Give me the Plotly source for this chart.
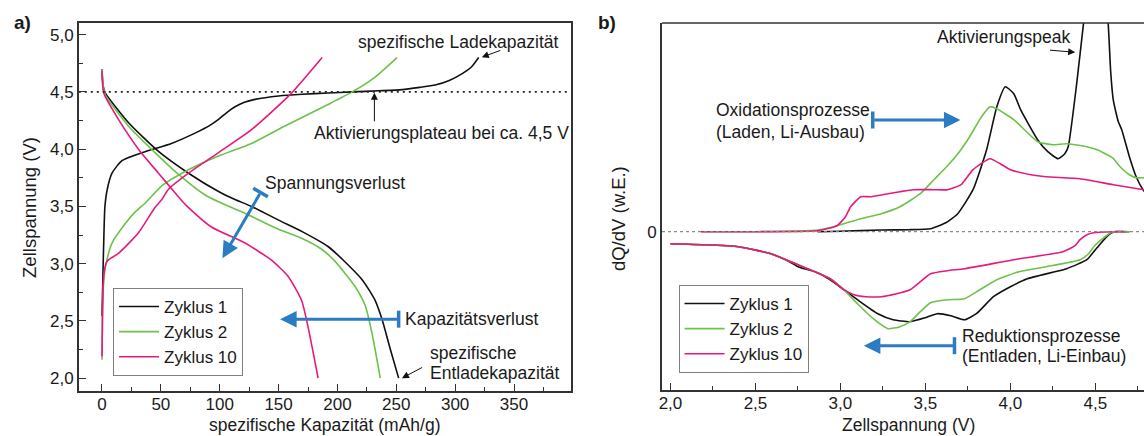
import plotly.graph_objects as go

W, H = 1144, 436
FONT = "Liberation Sans, Arial, sans-serif"
TXT = "#1a1a1a"
BLUE = "#2b7cc2"
C1, C2, C10 = "#111111", "#6cc24a", "#e8197c"

# ---------------- a) voltage vs. specific capacity ----------------
# Zyklus 1
cap1_ch = [0, 0.8, 1.5, 2.5, 4.5, 8.5, 17, 37, 59, 79, 92, 99, 106, 113, 121, 130, 150, 170, 192, 212, 235, 255, 270, 283, 295, 306, 314, 320]
u1_ch = [2.54, 2.9, 3.2, 3.5, 3.65, 3.79, 3.9, 3.98, 4.05, 4.14, 4.21, 4.26, 4.32, 4.37, 4.41, 4.435, 4.465, 4.48, 4.49, 4.50, 4.51, 4.52, 4.54, 4.56, 4.6, 4.66, 4.72, 4.80]
cap1_dis = [0, 1, 2.9, 22.6, 48, 73.5, 99, 113, 127, 150, 170, 192, 205, 221, 232, 238, 245, 252]
u1_dis = [4.70, 4.55, 4.49, 4.23, 3.98, 3.79, 3.63, 3.56, 3.50, 3.38, 3.28, 3.15, 3.03, 2.86, 2.68, 2.51, 2.25, 2.0]
# Zyklus 2
cap2_ch = [0, 0.5, 1.5, 2.9, 8.5, 19.8, 28, 36.8, 50.8, 73.5, 99, 127, 155, 192, 212.5, 232, 250.6]
u2_ch = [2.16, 2.6, 2.85, 2.97, 3.18, 3.35, 3.45, 3.53, 3.68, 3.82, 3.94, 4.05, 4.20, 4.39, 4.50, 4.63, 4.80]
cap2_dis = [0, 1, 3, 22.6, 45, 65, 87.6, 99, 121.5, 150, 170, 186, 198, 215, 223.7, 229.4, 236.4]
u2_dis = [4.70, 4.55, 4.47, 4.20, 3.97, 3.78, 3.60, 3.54, 3.44, 3.30, 3.22, 3.13, 3.02, 2.80, 2.63, 2.39, 2.0]
# Zyklus 10
cap10_ch = [0, 0.5, 1.5, 4.2, 14, 31, 45, 50.8, 56.5, 73.5, 99, 127, 161, 187]
u10_ch = [2.19, 2.6, 2.9, 3.02, 3.09, 3.27, 3.49, 3.56, 3.65, 3.79, 3.97, 4.17, 4.49, 4.80]
cap10_dis = [0, 1.5, 14, 31, 48, 62, 67.8, 73.5, 93, 121.5, 144, 158, 169.5, 175, 183.6]
u10_dis = [4.68, 4.49, 4.26, 4.0, 3.79, 3.62, 3.55, 3.49, 3.32, 3.18, 3.03, 2.89, 2.68, 2.45, 2.0]

# ---------------- b) differential capacity dQ/dV ----------------
v1_ox = [2.865, 3.0, 3.24, 3.40, 3.53, 3.62, 3.69, 3.78, 3.86, 3.92, 3.97, 4.02, 4.06, 4.16, 4.22, 4.28, 4.32, 4.34, 4.39, 4.43, 4.47, 4.51, 4.55, 4.575, 4.59, 4.605, 4.62, 4.635, 4.655, 4.70, 4.74, 4.78, 4.80]
q1_ox = [0, 0.005, 0.017, 0.02, 0.03, 0.09, 0.18, 0.42, 0.82, 1.25, 1.45, 1.38, 1.22, 0.92, 0.80, 0.73, 0.78, 0.85, 1.48, 2.08, 2.6, 2.8, 2.5, 2.09, 1.6, 1.32, 1.2, 1.1, 1.02, 0.75, 0.55, 0.42, 0.38]
v1_red = [2.0, 2.2, 2.4, 2.59, 2.7, 2.75, 2.85, 2.94, 3.02, 3.1, 3.22, 3.31, 3.41, 3.50, 3.57, 3.65, 3.73, 3.80, 3.90, 4.0, 4.10, 4.33, 4.45, 4.50, 4.53, 4.58, 4.61, 4.70]
q1_red = [-0.12, -0.13, -0.15, -0.22, -0.30, -0.35, -0.40, -0.48, -0.58, -0.68, -0.82, -0.88, -0.90, -0.86, -0.82, -0.84, -0.88, -0.82, -0.65, -0.55, -0.47, -0.37, -0.28, -0.18, -0.12, -0.03, 0, 0]
v2_ox = [2.18, 2.5, 2.865, 2.98, 3.12, 3.24, 3.35, 3.47, 3.55, 3.63, 3.70, 3.76, 3.83, 3.88, 3.92, 4.02, 4.16, 4.25, 4.33, 4.45, 4.51, 4.6, 4.645, 4.70, 4.74, 4.786]
q2_ox = [0, 0.0, 0.017, 0.06, 0.13, 0.18, 0.25, 0.38, 0.52, 0.66, 0.80, 0.95, 1.15, 1.25, 1.23, 1.12, 0.90, 0.87, 0.88, 0.85, 0.82, 0.74, 0.65, 0.57, 0.54, 0.54]
v2_red = [2.0, 2.2, 2.4, 2.59, 2.75, 2.94, 3.02, 3.1, 3.2, 3.28, 3.35, 3.41, 3.47, 3.53, 3.63, 3.73, 3.82, 3.92, 4.05, 4.21, 4.41, 4.46, 4.49, 4.55, 4.59, 4.62, 4.70]
q2_red = [-0.12, -0.13, -0.15, -0.22, -0.33, -0.47, -0.58, -0.72, -0.88, -0.97, -0.95, -0.90, -0.80, -0.71, -0.68, -0.67, -0.58, -0.48, -0.40, -0.35, -0.28, -0.22, -0.15, -0.06, -0.01, 0, 0]
v10_ox = [2.18, 2.5, 2.865, 2.98, 3.03, 3.06, 3.12, 3.18, 3.28, 3.35, 3.43, 3.55, 3.63, 3.71, 3.78, 3.88, 3.94, 4.0, 4.12, 4.21, 4.41, 4.605, 4.786]
q10_ox = [0, 0.0, 0.01, 0.06, 0.15, 0.25, 0.35, 0.35, 0.38, 0.40, 0.42, 0.42, 0.42, 0.47, 0.62, 0.73, 0.68, 0.62, 0.57, 0.55, 0.53, 0.47, 0.42]
v10_red = [2.0, 2.2, 2.4, 2.59, 2.75, 2.94, 3.02, 3.08, 3.15, 3.24, 3.33, 3.41, 3.47, 3.53, 3.63, 3.73, 4.02, 4.31, 4.38, 4.41, 4.45, 4.49, 4.6, 4.68]
q10_red = [-0.12, -0.13, -0.15, -0.22, -0.33, -0.47, -0.58, -0.63, -0.65, -0.65, -0.62, -0.58, -0.50, -0.42, -0.39, -0.37, -0.28, -0.20, -0.14, -0.08, -0.03, -0.01, 0, 0]

series_names = ["Zyklus 1", "Zyklus 2", "Zyklus 10"]
colors = [C1, C2, C10]

# axis ranges and plot-area geometry (pixels)
XA, YA = [-19.7, 398], [1.892, 5.102]
XB, YB = [1.95, 4.786], [-1.583, 2.087]
A_L, A_R, A_T, A_B = 76, 569, 23, 390.5
B_L, B_R, B_T, B_B = 660.7, 1144, 23, 390


def px(x):
    return x / W


def py(y):
    return 1 - y / H


def a_to_px(c, v):
    return (A_L + (c - XA[0]) / (XA[1] - XA[0]) * (A_R - A_L),
            A_B - (v - YA[0]) / (YA[1] - YA[0]) * (A_B - A_T))


def b_to_px(v, q):
    return (B_L + (v - XB[0]) / (XB[1] - XB[0]) * (B_R - B_L),
            B_B - (q - YB[0]) / (YB[1] - YB[0]) * (B_B - B_T))


fig = go.Figure()

a_data = [((cap1_ch, u1_ch), (cap1_dis, u1_dis)),
          ((cap2_ch, u2_ch), (cap2_dis, u2_dis)),
          ((cap10_ch, u10_ch), (cap10_dis, u10_dis))]
b_data = [((v1_ox, q1_ox), (v1_red, q1_red)),
          ((v2_ox, q2_ox), (v2_red, q2_red)),
          ((v10_ox, q10_ox), (v10_red, q10_red))]

for name, col, curves in zip(series_names, colors, a_data):
    for k, (xs, ys) in enumerate(curves):
        fig.add_trace(go.Scatter(x=xs, y=ys, mode="lines", name=name, legendgroup="a" + name,
                                 showlegend=(k == 0), legend="legend",
                                 line=dict(color=col, width=1.6, shape="spline", smoothing=0.6),
                                 xaxis="x", yaxis="y"))

for name, col, curves in zip(series_names, colors, b_data):
    for k, (xs, ys) in enumerate(curves):
        fig.add_trace(go.Scatter(x=xs, y=ys, mode="lines", name=name, legendgroup="b" + name,
                                 showlegend=(k == 0), legend="legend2",
                                 line=dict(color=col, width=1.6, shape="spline", smoothing=0.5),
                                 xaxis="x2", yaxis="y2"))

tickfont = dict(family=FONT, size=17, color=TXT)
axis_common = dict(showline=True, linecolor="#333333", linewidth=1.5, ticks="inside",
                   ticklen=7, tickwidth=1.3, tickcolor="#333333", showgrid=False,
                   zeroline=False, tickfont=tickfont)
legend_common = dict(xanchor="left", yanchor="top", bgcolor="white", bordercolor="#808080",
                     borderwidth=1, font=dict(family=FONT, size=17, color=TXT),
                     itemwidth=40, tracegroupgap=0)

fig.update_layout(
    width=W, height=H, margin=dict(l=0, r=0, t=0, b=0),
    paper_bgcolor="white", plot_bgcolor="white",
    separators=",.",
    font=dict(family=FONT, size=18, color=TXT),
    xaxis=dict(domain=[px(A_L), px(A_R)], range=XA, anchor="y", mirror=True,
               tick0=0, dtick=50, ticklabelstandoff=-3,
               minor=dict(dtick=25, ticklen=4, ticks="inside", tickcolor="#333333"),
               **axis_common),
    yaxis=dict(domain=[py(A_B), py(A_T)], range=YA, anchor="x", mirror=True,
               tick0=2, dtick=0.5, tickformat=".1f",
               minor=dict(dtick=0.25, ticklen=4, ticks="inside", tickcolor="#333333"),
               **axis_common),
    xaxis2=dict(domain=[px(B_L), 1.0], range=XB, anchor="y2",
                tick0=2, dtick=0.5, tickformat=".1f", ticklabelstandoff=-3,
                minor=dict(dtick=0.25, ticklen=4, ticks="inside", tickcolor="#333333"),
                **axis_common),
    yaxis2=dict(domain=[py(B_B), py(B_T)], range=YB, anchor="x2",
                showline=True, linecolor="#333333", linewidth=1.5, showgrid=False, zeroline=False,
                tickvals=[0], ticktext=["0"], ticks="", tickfont=tickfont),
    legend=dict(x=px(110.3), y=py(288), **legend_common),
    legend2=dict(x=px(677.3), y=py(285), **legend_common),
)

shapes = []
# 4,5 V reference line
shapes.append(dict(type="line", xref="x", yref="y", x0=XA[0], x1=XA[1], y0=4.5, y1=4.5,
                   line=dict(color="#222222", width=1.6, dash="2px,4px")))
# zero line in b
shapes.append(dict(type="line", xref="x2", yref="y2", x0=XB[0], x1=XB[1], y0=0, y1=0,
                   line=dict(color="#8a8a8a", width=1.2, dash="3px,3px")))
# top border of b
shapes.append(dict(type="line", xref="paper", yref="paper", x0=px(B_L), x1=1.0,
                   y0=py(B_T), y1=py(B_T), line=dict(color="#333333", width=1.5)))

annotations = []


def text(s, x, y, size=17.5, anchor="left", bold=False, angle=0):
    annotations.append(dict(text=("<b>%s</b>" % s) if bold else s, x=px(x), y=py(y),
                            xref="paper", yref="paper", xanchor=anchor, yanchor="middle",
                            showarrow=False, textangle=angle,
                            font=dict(family=FONT, size=size, color=TXT)))


def blue_arrow(tail, head, ref):
    """Blue arrow with a T-bar at its tail; tail/head in data coords of panel ref."""
    conv = a_to_px if ref == "a" else b_to_px
    xr, yr = ("x", "y") if ref == "a" else ("x2", "y2")
    annotations.append(dict(x=head[0], y=head[1], ax=tail[0], ay=tail[1], xref=xr, yref=yr,
                            axref=xr, ayref=yr, showarrow=True, arrowhead=2, arrowsize=1.1,
                            arrowwidth=3, arrowcolor=BLUE, text=""))
    (tx, ty), (hx, hy) = conv(*tail), conv(*head)
    dx, dy = hx - tx, hy - ty
    n = (dx * dx + dy * dy) ** 0.5
    ux, uy = -dy / n, dx / n
    half = 8.5
    shapes.append(dict(type="line", xref="paper", yref="paper",
                       x0=px(tx - ux * half), y0=py(ty - uy * half),
                       x1=px(tx + ux * half), y1=py(ty + uy * half),
                       line=dict(color=BLUE, width=3.5)))


def black_arrow(tail, head, ref):
    xr, yr = ("x", "y") if ref == "a" else ("x2", "y2")
    annotations.append(dict(x=head[0], y=head[1], ax=tail[0], ay=tail[1], xref=xr, yref=yr,
                            axref=xr, ayref=yr, showarrow=True, arrowhead=2, arrowsize=1.4,
                            arrowwidth=1, arrowcolor="#111111", text=""))


# panel a
text("a)", 9, 22.5, size=19, bold=True)
text("Zellspannung (V)", 26, 207, size=18.5, anchor="center", angle=-90)
text("spezifische Kapazität (mAh/g)", 323, 424.5, size=17.5, anchor="center")
text("spezifische Ladekapazität", 354, 41.7)
black_arrow((339.6, 4.867), (322.6, 4.803), "a")
text("Aktivierungsplateau bei ca. 4,5 V", 310, 133)
black_arrow((231.4, 4.23), (231.4, 4.492), "a")
text("Spannungsverlust", 261, 183)
blue_arrow((134.7, 3.621), (102.3, 3.048), "a")
text("Kapazitätsverlust", 401, 319)
blue_arrow((252, 2.515), (151.3, 2.515), "a")
text("spezifische", 426, 352.7)
text("Entladekapazität", 426, 373.3)
black_arrow((273.2, 2.10), (254.8, 2.0), "a")

# panel b
text("b)", 595, 22, size=19, bold=True)
text("dQ/dV (w.E.)", 616.7, 219, size=18.5, anchor="center", angle=-90)
text("Zellspannung (V)", 907.5, 424.5, size=17.5, anchor="center")
text("Aktivierungspeak", 934, 37.3)
black_arrow((4.224, 1.817), (4.381, 1.794), "b")
text("Oxidationsprozesse", 712.7, 110)
text("(Laden, Li-Ausbau)", 712.7, 131.7)
blue_arrow((3.19, 1.117), (3.706, 1.117), "b")
text("Reduktionsprozesse", 959.3, 336)
text("(Entladen, Li-Einbau)", 959.3, 355.7)
blue_arrow((3.671, -1.14), (3.138, -1.14), "b")

fig.update_layout(shapes=shapes, annotations=annotations)
fig.write_html("out.html")
